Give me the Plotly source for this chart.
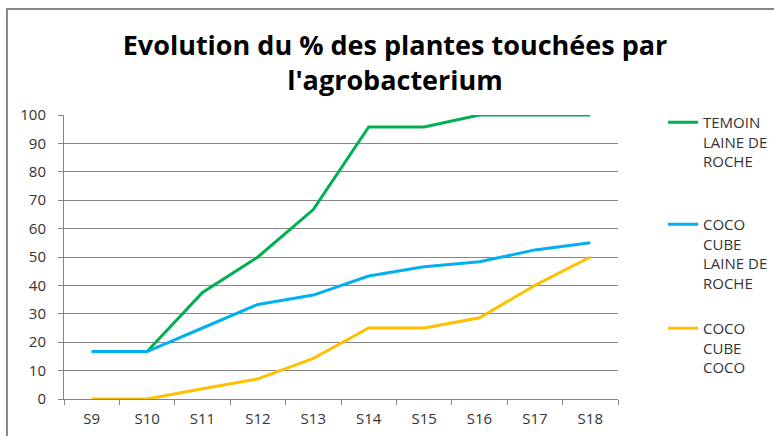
import plotly.graph_objects as go

categories = ["S9", "S10", "S11", "S12", "S13", "S14", "S15", "S16", "S17", "S18"]
temoin = [16.7, 16.7, 37.5, 50.0, 66.7, 95.8, 95.8, 100, 100, 100]
coco_laine = [16.7, 16.7, 25.0, 33.3, 36.6, 43.3, 46.6, 48.3, 52.5, 55.0]
coco_coco = [0, 0, 3.6, 7.1, 14.3, 25.0, 25.0, 28.6, 40.0, 50.0]
y_ticks = list(range(0, 101, 10))

series = [
    ("TEMOIN<br>LAINE DE<br>ROCHE", temoin, "#00B050", "legend"),
    ("COCO<br>CUBE<br>LAINE DE<br>ROCHE", coco_laine, "#00B0F0", "legend2"),
    ("COCO<br>CUBE<br>COCO", coco_coco, "#FFC000", "legend3"),
]

fig = go.Figure()
for name, vals, color, lg in series:
    fig.add_trace(go.Scatter(x=categories, y=vals, mode="lines", name=name,
                             line=dict(color=color, width=3), legend=lg, showlegend=True))

font = dict(family="Open Sans, Liberation Sans, sans-serif", size=15, color="#333333")
leg_common = dict(font=dict(family="Open Sans, sans-serif", size=15, color="#333333"),
                  bgcolor="rgba(0,0,0,0)", xanchor="left", yanchor="top",
                  xref="container", yref="container",
                  valign="top", itemwidth=30, tracegroupgap=0)

fig.update_layout(
    width=774, height=436, showlegend=True,
    margin=dict(l=64, r=156, t=115, b=37, autoexpand=False),
    paper_bgcolor="white", plot_bgcolor="white",
    font=font,
    title=dict(text="Evolution du % des plantes touchées par<br>l'agrobacterium",
               x=395 / 774, xanchor="center", xref="container", yref="container",
               y=1 - 55 / 436, yanchor="middle",
               font=dict(family="Open Sans, sans-serif", size=27, color="#000000", weight="bold")),
    legend=dict(x=663 / 774, y=1 - 106 / 436, **leg_common),
    legend2=dict(x=663 / 774, y=1 - 208 / 436, **leg_common),
    legend3=dict(x=663 / 774, y=1 - 312 / 436, **leg_common),
    xaxis=dict(type="category", range=[-0.5, 9.5], showgrid=False, tickson="boundaries",
               ticks="outside", ticklen=5, tickcolor="#868686", showline=True,
               linecolor="#868686", linewidth=1, ticklabelstandoff=6,
               tickfont=dict(size=15, color="#333333")),
    yaxis=dict(range=[0, 100], tickvals=y_ticks, showgrid=True, gridcolor="#868686",
               gridwidth=1, ticks="outside", ticklen=5, tickcolor="#868686",
               showline=True, linecolor="#868686", linewidth=1, zeroline=False,
               ticklabelstandoff=9, tickfont=dict(size=15, color="#333333")),
    shapes=[dict(type="rect", xref="paper", yref="paper",
                 x0=-0.103, x1=1.4, y0=-0.3, y1=1.373,
                 line=dict(color="#868686", width=2), fillcolor="rgba(0,0,0,0)", layer="below")],
)

fig.write_html("out.html", config={"displayModeBar": False},
               post_script="document.body.style.margin='0';")
